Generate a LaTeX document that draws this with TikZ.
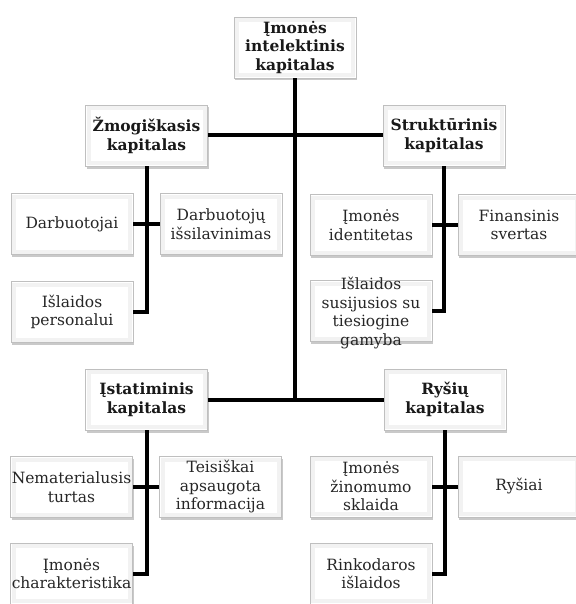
\documentclass[tikz,border=0pt]{standalone}
\usepackage{fontspec}
\setmainfont{DejaVu Serif}
\usetikzlibrary{shadows}
\begin{document}
\begin{tikzpicture}[x=1pt,y=-1pt,
  box/.style={draw=black!25, line width=0.7pt, fill=white,
    minimum width=122pt, minimum height=61pt, inner sep=1pt, align=center,
    text=black!85, font=\fontsize{15.5}{18.5}\selectfont,
    drop shadow={shadow xshift=1.2pt, shadow yshift=-2.5pt, opacity=0.3, fill=black!70},
    path picture={\draw[black!5, line width=4pt]
      ([shift={(3pt,3pt)}]path picture bounding box.south west) rectangle
      ([shift={(-3pt,-3pt)}]path picture bounding box.north east);}},
  head/.style={box, font=\fontsize{15.5}{18.5}\selectfont\bfseries, text=black!90},
  txt/.style={align=center, text=black!85, font=\fontsize{15.5}{18.5}\selectfont, inner sep=0pt},
  link/.style={line width=4pt, black}]
\useasboundingbox (0,0) rectangle (575,604);
% heads
\node[head] (top) at (295,47.5) {Įmonės\\intelektinis\\kapitalas};
\node[head] (zm) at (146.5,135.5) {Žmogiškasis\\kapitalas};
\node[head] (st) at (444,135.5) {Struktūrinis\\kapitalas};
\node[head] (ist) at (146.5,399.5) {Įstatiminis\\kapitalas};
\node[head] (rys) at (445,399.5) {Ryšių\\kapitalas};
% children
\node[box] (darb) at (72,224) {Darbuotojai};
\node[box] (disl) at (221,224) {Darbuotojų\\išsilavinimas};
\node[box] (islp) at (72,312) {Išlaidos\\personalui};
\node[box] (imid) at (371,225) {Įmonės\\identitetas};
\node[box] (fin) at (519,225) {Finansinis\\svertas};
\node[box] (isg) at (371,311) {};
\node[txt] (isgt) at (371,313) {Išlaidos\\susijusios su\\tiesiogine\\gamyba};
\node[box] (nem) at (71.5,487) {Nematerialusis\\turtas};
\node[box] (teis) at (220.5,487) {Teisiškai\\apsaugota\\informacija};
\node[box] (imch) at (71.5,573.5) {Įmonės\\charakteristika};
\node[box] (ryk) at (371,486.5) {Įmonės\\žinomumo\\sklaida};
\node[box] (ryss) at (519,486.5) {Ryšiai};
\node[box] (rink) at (371,573.5) {Rinkodaros\\išlaidos};
% connectors
\draw[link] (top.south) -- (top.south |- ist.east);
\draw[link] (ist.east) -- (rys.west);
\draw[link] (zm.east) -- (st.west);
\draw[link] (zm.south) |- (islp.east);
\draw[link] (darb.east) -- (disl.west);
\draw[link] (st.south) |- (isg.east);
\draw[link] (imid.east) -- (fin.west);
\draw[link] (ist.south) |- (imch.east);
\draw[link] (nem.east) -- (teis.west);
\draw[link] (rys.south) |- (rink.east);
\draw[link] (ryk.east) -- (ryss.west);
\end{tikzpicture}
\end{document}
